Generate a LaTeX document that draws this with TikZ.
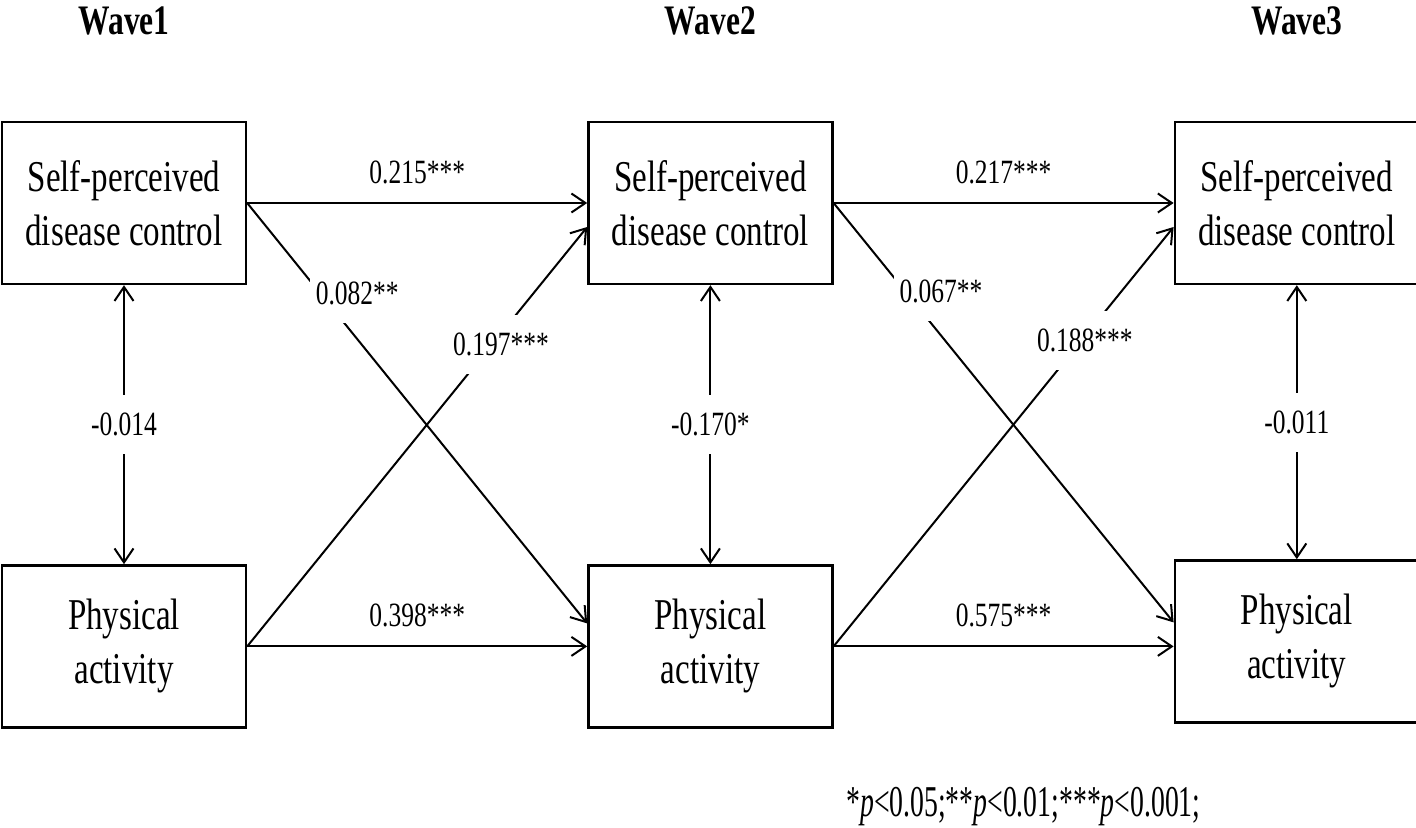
\documentclass[tikz,border=0pt]{standalone}
\usepackage{fontspec}
\setmainfont{Liberation Serif}[FakeStretch=0.75]
\newfontfamily\notefont{Liberation Serif}[FakeStretch=0.63]
\usepackage{tikz}
\usetikzlibrary{arrows.meta}
\usetikzlibrary{positioning}
\usetikzlibrary{calc}
\tikzstyle{var} = [draw, rectangle, line width=1.2pt, minimum width=122pt,
minimum height=81pt, align=center, font=\fontsize{22}{27}\selectfont]
\tikzstyle{line} = [draw, ->, >={Straight Barb[length=7pt,width=9.5pt]}, line width=1pt]

\begin{document}
\begin{tikzpicture}[node distance=139.5pt and 170pt,
	coef/.style={font=\fontsize{17}{17}\selectfont, fill=white, inner xsep=3pt, inner ysep=9pt},
	hcoef/.style={font=\fontsize{17}{17}\selectfont, inner sep=3pt, above=6pt},
	wave/.style={font=\fontsize{21}{21}\selectfont\bfseries, inner sep=0pt},
	note/.style={font=\notefont\fontsize{22}{22}\selectfont, inner sep=0pt}]
	\useasboundingbox (-62pt,101.5pt) rectangle (646pt,-312.5pt);
	\node [var] (spdc1) {Self-perceived\\disease control};
	\node [var, right=of spdc1] (spdc2) {Self-perceived\\disease control};
	\node [var, right=of spdc2] (spdc3) {Self-perceived\\disease control};
	\node [var, below=of spdc1] (pa1) {Physical\\activity};
	\node [var, below=of spdc2] (pa2) {Physical\\activity};
	\node [var, below=of spdc3, yshift=2.5pt] (pa3) {Physical\\activity};
	%% Waves
	\node [wave, above=42.5pt of spdc1] (w1) {Wave1};
	\node [wave, above=42.5pt of spdc2] (w2) {Wave2};
	\node [wave, above=42.5pt of spdc3] (w3) {Wave3};
	%% Paths
	\path [line] (spdc1) -- node [hcoef] {0.215***} (spdc2);
	\path [line] (spdc2) -- node [hcoef] {0.217***} (spdc3);
	\path [line] (pa1) -- node [hcoef] {0.398***} (pa2);
	\path [line] (pa2.east) -- node [hcoef] {0.575***} (pa2.east -| pa3.west);
	\path [line] (spdc1.east) -- node [coef, pos=0.215, xshift=18.5pt] {0.082**} ($(pa2.west)+(0,11.5pt)$);
	\path [line] (pa1.east) -- node [coef, pos=0.72, xshift=4.5pt] {0.197***} ($(spdc2.west)+(0,-12pt)$);
	\path [line] (spdc2.east) -- node [coef, pos=0.21, xshift=18pt] {0.067**} ($(pa3.west)+(0,9.5pt)$);
	\path [line] (pa2.east) -- node [coef, pos=0.73, xshift=1.5pt] {0.188***} ($(spdc3.west)+(0,-12pt)$);
	%% Covariances
	\path [line, <->] (spdc1) -- node [coef] {-0.014} (pa1);
	\path [line, <->] (spdc2) -- node [coef] {-0.170*} (pa2);
	\path [line, <->] (spdc3) -- node [coef] {-0.011} (pa3);
	\node [note, anchor=base] (pval) at ($(pa2.south)+(156.5pt,-44pt)$) {*\textit{p}<0.05;**\textit{p}<0.01;***\textit{p}<0.001;};
\end{tikzpicture}
\end{document}
